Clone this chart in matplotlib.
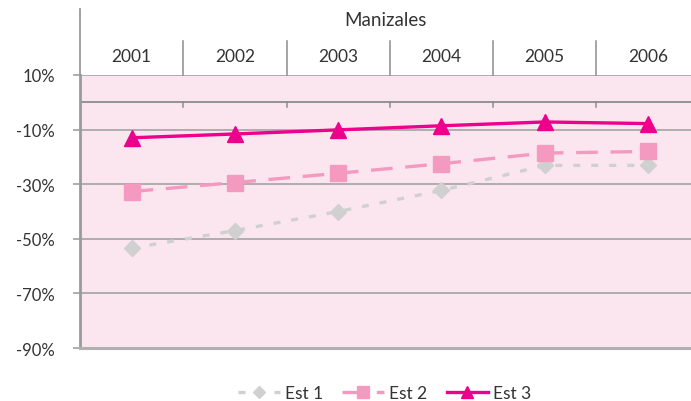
import matplotlib
matplotlib.use("Agg")
import matplotlib.pyplot as plt

plt.rcParams['font.family'] = ['Lato', 'DejaVu Sans']

years = ["2001", "2002", "2003", "2004", "2005", "2006"]
est1 = [-53.4, -47.0, -40.0, -32.3, -23.1, -23.1]
est2 = [-32.7, -29.4, -26.0, -22.5, -18.6, -18.0]
est3 = [-13.0, -11.6, -10.1, -8.6, -7.2, -7.8]
yticks = [10, -10, -30, -50, -70, -90]
city = "Manizales"

W, H = 691, 402
fig = plt.figure(figsize=(W / 100, H / 100), dpi=100)
ax = fig.add_axes([80 / W, (H - 349) / H, 611 / W, 273 / H])
ax.set_facecolor("#fbe6ef")

x = list(range(len(years)))
grid_c = "#a8a8a8"
txt_c = "#333333"

for v in [-10, -30, -50, -70]:
    ax.axhline(v, color=grid_c, lw=1.3, zorder=1)
ax.axhline(10, color=grid_c, lw=1.3, zorder=1)
# category axis sits at 0%
ax.axhline(0, color="#8c8c8c", lw=1.3, zorder=1)
for k in range(1, len(years)):
    ax.plot([k - 0.5, k - 0.5], [0, -1.8], color="#8c8c8c", lw=1.1, zorder=1)

ax.plot(x, est1, color="#d0d0d0", lw=2.4, dashes=(2.1, 3.3), marker="D",
        ms=8, mfc="#d0d0d0", mec="#d0d0d0", label="Est 1", zorder=3)
ax.plot(x, est2, color="#f49ac1", lw=2.4, dashes=(6.5, 3.8), marker="s",
        ms=11, mfc="#f49ac1", mec="#f49ac1", label="Est 2", zorder=4)
ax.plot(x, est3, color="#ec008c", lw=2.4, marker="^",
        ms=11.5, mfc="#ec008c", mec="#ec008c", label="Est 3", zorder=5)

ax.set_xlim(-0.5, 5.417)
ax.set_ylim(-90, 10)
ax.set_xticks([])
ax.set_yticks(yticks)
ax.set_yticklabels([f"{v}%" for v in yticks], fontsize=12, color=txt_c)
ax.tick_params(axis="y", length=5, width=1.3, color=grid_c, pad=13)

for s in ["top", "right"]:
    ax.spines[s].set_visible(False)
ax.spines["left"].set_color("#9a9a9a")
ax.spines["left"].set_linewidth(2)
ax.spines["bottom"].set_color("#b0b0b0")
ax.spines["bottom"].set_linewidth(2.2)

# header above the plot: city name and year columns
tr = ax.get_xaxis_transform()
ax.plot([-0.5, -0.5], [1, (349 - 10) / 273], transform=tr, color="#9a9a9a",
        lw=1.3, clip_on=False)
for k in range(1, len(years)):
    ax.plot([k - 0.5, k - 0.5], [1, (349 - 42) / 273], transform=tr,
            color="#8c8c8c", lw=1.1, clip_on=False)
for i, yr in enumerate(years):
    ax.text(i, (349 - 57) / 273, yr, transform=tr, ha="center", va="center",
            fontsize=12.5, color=txt_c)
ax.text(0.5, (349 - 20) / 273, city, transform=ax.transAxes, ha="center",
        va="center", fontsize=13.5, color=txt_c)

fig.legend(loc="center", bbox_to_anchor=(385 / W, 1 - 394 / H), ncol=3,
           frameon=False, fontsize=12.5, handlelength=2.4, columnspacing=1.1,
           handletextpad=0.3, markerscale=0.75, labelcolor=txt_c)

fig.savefig("out.png", dpi=100)
